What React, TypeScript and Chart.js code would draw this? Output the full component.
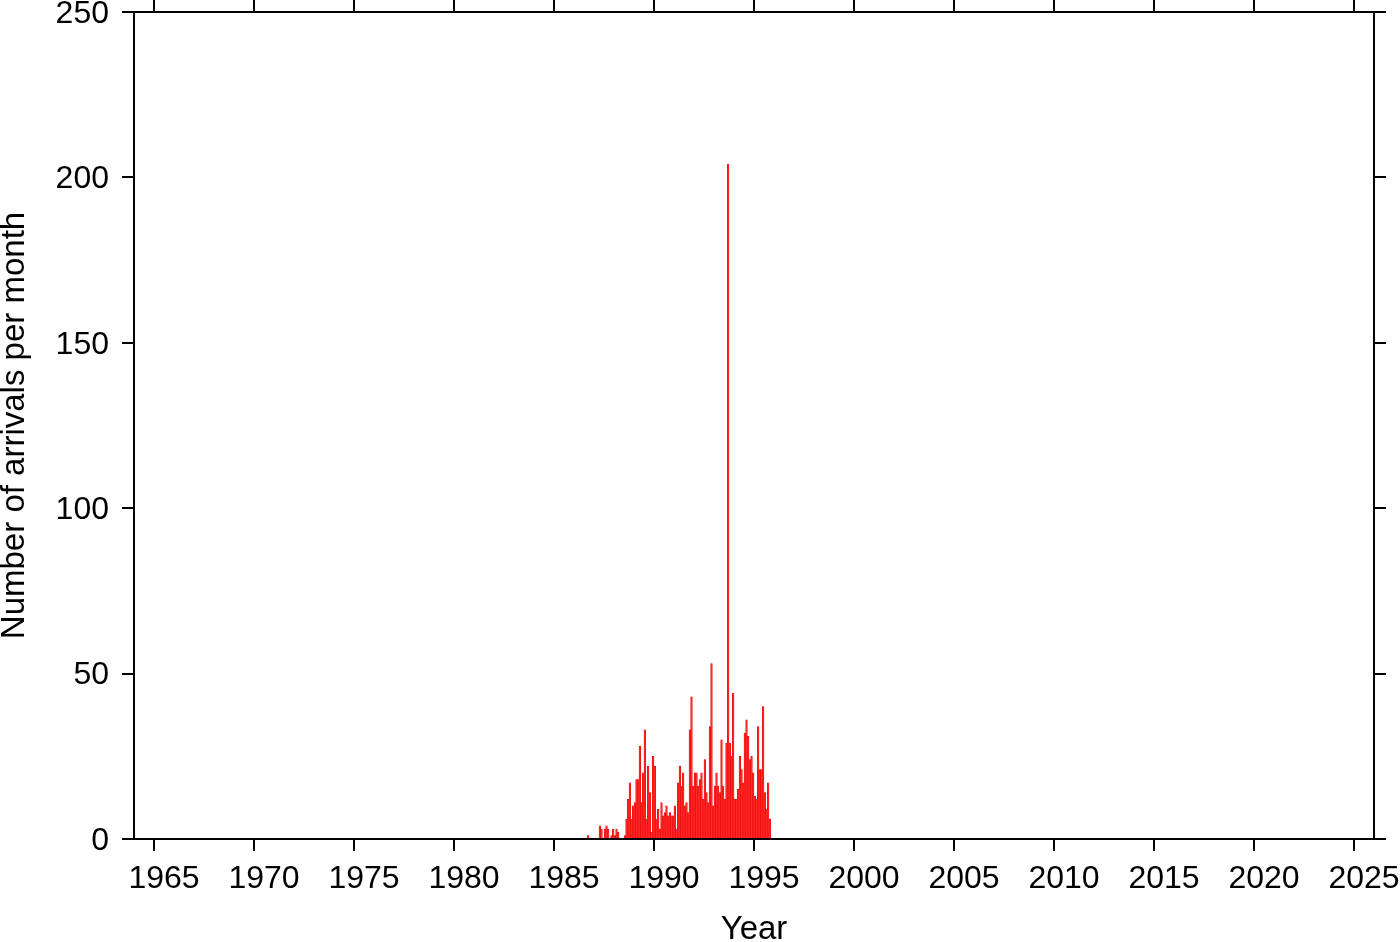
import { useEffect, useRef } from "react";
import { Chart, registerables } from "chart.js";

Chart.register(...registerables);

// Monthly arrival counts, starting September 1986
const firstYear = 1986;
const firstMonth = 9; // September
const arrivalsPerMonth = [
  1, 0, 0, 0, 0, 0, 0, 4, 3, 0,
  3, 4, 3, 0, 1, 3, 1, 3, 2, 0,
  0, 0, 1, 6, 12, 17, 6, 10, 11, 18,
  18, 28, 11, 20, 33, 6, 22, 14, 2, 25,
  22, 6, 9, 3, 11, 7, 8, 10, 7, 8,
  7, 7, 10, 3, 17, 22, 16, 20, 10, 11,
  8, 33, 43, 16, 20, 20, 16, 18, 20, 12,
  24, 14, 11, 34, 53, 10, 16, 20, 16, 14,
  30, 16, 12, 29, 204, 29, 25, 44, 12, 12,
  15, 25, 21, 17, 32, 36, 31, 24, 25, 20,
  13, 12, 34, 21, 21, 40, 14, 9, 17, 6,
];

const yearTicks = [1965, 1970, 1975, 1980, 1985, 1990, 1995, 2000, 2005, 2010, 2015, 2020, 2025];
const countTicks = [0, 50, 100, 150, 200, 250];
const xRange = [1964, 2026];
const yRange = [0, 250];
const xTitle = "Year";
const yTitle = "Number of arrivals per month";

const FONT = "'Liberation Sans', Arial, Helvetica, sans-serif";

export default function App() {
  const canvasRef = useRef<HTMLCanvasElement | null>(null);

  useEffect(() => {
    const canvas = canvasRef.current;
    if (!canvas) return;

    const points = arrivalsPerMonth.map((v, i) => {
      const m = firstMonth - 1 + i;
      return { x: firstYear + (m + 0.5) / 12, y: v };
    });

    const setTicks = (vals: number[]) => (scale: any) => {
      scale.ticks = vals.map((v) => ({ value: v }));
    };
    const fit = (size: number) => (scale: any) => {
      if (scale.isHorizontal()) scale.height = size;
      else scale.width = size;
      scale.paddingTop = 0;
      scale.paddingBottom = 0;
      scale.paddingLeft = 0;
      scale.paddingRight = 0;
    };

    const gridCommon = {
      drawOnChartArea: false,
      drawTicks: true,
      offset: false,
      tickLength: 12,
      lineWidth: 2,
      color: "#000",
    };
    const borderCommon = { display: true, color: "#000", width: 2 };

    const chart = new Chart(canvas, {
      type: "bar",
      data: {
        datasets: [
          {
            data: points as any,
            backgroundColor: "#ff2b2b",
            borderColor: "#e80000",
            borderWidth: 0.5,
            barPercentage: 1,
            categoryPercentage: 1,
            xAxisID: "x",
            yAxisID: "y",
          },
        ],
      },
      options: {
        responsive: false,
        devicePixelRatio: 1,
        animation: false,
        layout: { padding: 0, autoPadding: false } as any,
        plugins: {
          legend: { display: false },
          tooltip: { enabled: false },
        },
        scales: {
          x: {
            type: "linear",
            position: "bottom",
            min: xRange[0],
            max: xRange[1],
            offset: false,
            afterBuildTicks: setTicks(yearTicks),
            afterFit: fit(103),
            ticks: {
              color: "#000",
              font: { family: FONT, size: 32, lineHeight: 1 },
              padding: 12,
              labelOffset: 10,
              maxRotation: 0,
              autoSkip: false,
              callback: (v: any) => String(v),
            },
            grid: gridCommon,
            border: borderCommon,
            title: {
              display: true,
              text: xTitle,
              color: "#000",
              font: { family: FONT, size: 33, lineHeight: 0.75 },
              padding: 0,
            },
          },
          xTop: {
            type: "linear",
            position: "top",
            min: xRange[0],
            max: xRange[1],
            offset: false,
            afterBuildTicks: setTicks(yearTicks),
            afterFit: fit(12),
            ticks: { display: false },
            grid: gridCommon,
            border: borderCommon,
          },
          y: {
            type: "linear",
            position: "left",
            min: yRange[0],
            max: yRange[1],
            afterBuildTicks: setTicks(countTicks),
            afterFit: fit(134),
            ticks: {
              color: "#000",
              font: { family: FONT, size: 32, lineHeight: 1 },
              padding: 13,
              labelOffset: 2,
              callback: (v: any) => String(v),
            },
            grid: gridCommon,
            border: borderCommon,
            title: {
              display: true,
              text: yTitle,
              color: "#000",
              font: { family: FONT, size: 33, lineHeight: 0.885 },
              padding: 0,
            },
          },
          yRight: {
            type: "linear",
            position: "right",
            min: yRange[0],
            max: yRange[1],
            afterBuildTicks: setTicks(countTicks),
            afterFit: fit(26),
            ticks: { display: false },
            grid: gridCommon,
            border: borderCommon,
          },
        } as any,
      },
    });

    return () => chart.destroy();
  }, []);

  return (
    <div style={{ position: "absolute", left: 0, top: 0, width: 1400, height: 942, background: "#fff" }}>
      <canvas ref={canvasRef} width={1400} height={942} style={{ display: "block" }} />
    </div>
  );
}
